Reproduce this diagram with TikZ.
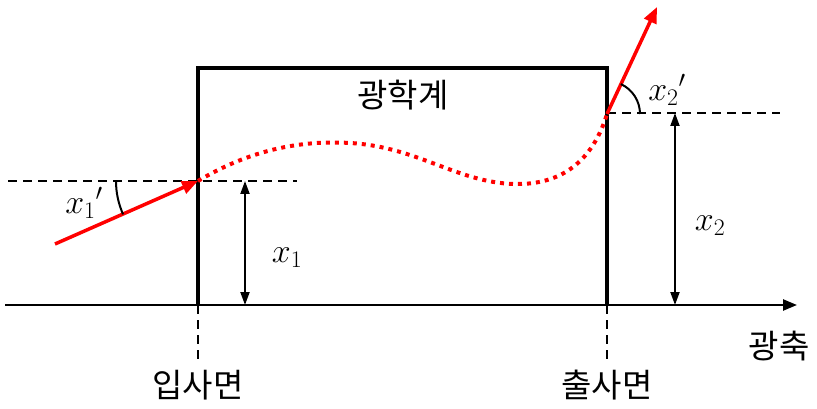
\RequirePackage{fix-cm}
\documentclass[tikz,border=0pt]{standalone}
\usepackage{fontspec}
\setmainfont{Noto Sans CJK KR}
\usetikzlibrary{arrows.meta}
\tikzset{
  boxline/.style={line width=3.8pt},
  axisline/.style={line width=2.5pt,-{Triangle[length=14pt,width=11pt]}},
  guide/.style={line width=2pt,dash pattern=on 9pt off 6pt},
  ray/.style={red,line width=3.5pt,-{Triangle[length=16pt,width=13pt]}},
  rayin/.style={red,line width=4pt,line cap=butt,dash pattern=on 4pt off 5pt},
  dim/.style={line width=2pt,{Triangle[length=13pt,width=9pt]}-{Triangle[length=13pt,width=9pt]}},
  ang/.style={line width=2pt},
  kor/.style={font=\fontsize{33}{36}\selectfont,inner sep=0pt},
  mlab/.style={font=\fontsize{34}{38}\selectfont,inner sep=0pt}
}
\begin{document}
\begin{tikzpicture}[x=1pt,y=-1pt]
\useasboundingbox (0,0) rectangle (817,409);
% key points
\coordinate (axL) at (5,305);
\coordinate (axR) at (797,305);
\coordinate (inP) at (198,181);
\coordinate (outP) at (607,114);
\coordinate (inB) at (198,305);
\coordinate (outB) at (607,305);
\coordinate (inT) at (198,68);
\coordinate (outT) at (607,68);
\coordinate (inD) at (198,362);
\coordinate (outD) at (607,362);
\coordinate (dL1) at (8,181);
\coordinate (dL2) at (297,181);
\coordinate (dR1) at (607,113);
\coordinate (dR2) at (780,113);
\coordinate (raySrc) at (55,244);
\coordinate (rayEnd) at (657,7);
\coordinate (x1T) at (245,181);
\coordinate (x1B) at (245,305);
\coordinate (x2T) at (675,113);
\coordinate (x2B) at (675,305);
% optical axis
\draw[axisline] (axL) -- (axR);
% box
\draw[boxline] (inB) -- (inT) -- (outT) -- (outB);
% dashed guides
\draw[guide] (inB) -- (inD);
\draw[guide] (outB) -- (outD);
\draw[guide] (dL1) -- (dL2);
\draw[guide] (dR1) -- (dR2);
% rays
\draw[rayin] (inP) .. controls (250,150) and (300,140) .. (350,143)
  .. controls (420,147) and (460,185) .. (520,184)
  .. controls (572,183) and (596,150) .. (outP);
\draw[ray] (raySrc) -- (inP);
\draw[ray] (outP) -- (rayEnd);
% dimension arrows
\draw[dim] (x1T) -- (x1B);
\draw[dim] (x2T) -- (x2B);
% angle arcs
\draw[ang] (inP) ++(180:82) arc[start angle=180,end angle=156,radius=82];
\draw[ang] (outP) ++(0:33) arc[start angle=0,end angle=-65,radius=33];
% labels
\node[kor] (sys) at (403,95) {광학계};
\node[kor] (inlab) at (198,385) {입사면};
\node[kor] (outlab) at (607,385) {출사면};
\node[kor] (axlab) at (779,346) {광축};
\node[mlab] (x1lab) at (287,258) {$x_1$};
\node[mlab] (x2lab) at (710,226) {$x_2$};
\node[mlab] (a1lab) at (84,203) {$x_1{}'$};
\node[mlab] (a2lab) at (667,90) {$x_2{}'$};
\end{tikzpicture}
\end{document}
